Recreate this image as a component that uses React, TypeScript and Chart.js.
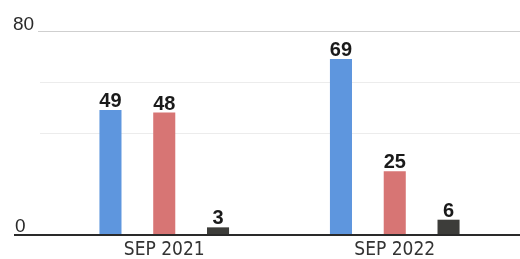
import React, { useEffect, useRef } from "react";
import { Chart, registerables } from "chart.js";

Chart.register(...registerables);

const categories = ["SEP 2021", "SEP 2022"];
const blueValues = [49, 69];
const redValues = [48, 25];
const darkValues = [3, 6];
const yTickLabels = [0, 80];
const yGridValues = [40, 60];

const NARROW = "'Liberation Sans Narrow', 'DejaVu Sans Condensed', 'Liberation Sans', sans-serif";
const SANS = "'Liberation Sans', Arial, sans-serif";

const decorPlugin = {
  id: "decor",
  beforeDatasetsDraw(chart: any) {
    const ctx = chart.ctx;
    const y = chart.scales.y;
    const W = chart.width;
    ctx.save();
    // faint gridlines
    yGridValues.forEach((v) => {
      const py = Math.round(y.getPixelForValue(v)) + 0.5;
      ctx.strokeStyle = "#ececec";
      ctx.lineWidth = 1;
      ctx.beginPath();
      ctx.moveTo(40, py);
      ctx.lineTo(W, py);
      ctx.stroke();
    });
    // top gridline
    const pTop = Math.round(y.getPixelForValue(80)) + 0.5;
    ctx.strokeStyle = "#cfcfcf";
    ctx.lineWidth = 1;
    ctx.beginPath();
    ctx.moveTo(38, pTop);
    ctx.lineTo(W, pTop);
    ctx.stroke();
    // y labels
    ctx.fillStyle = "#2a2a2a";
    ctx.font = `19px ${SANS}`;
    ctx.textAlign = "left";
    ctx.textBaseline = "alphabetic";
    yTickLabels.forEach((v) => {
      const py = y.getPixelForValue(v);
      ctx.fillText(String(v), v === 0 ? 15 : 13, py - (v === 0 ? 3 : 1));
    });
    // x labels
    const x = chart.scales.x;
    ctx.fillStyle = "#333333";
    ctx.font = `19px ${NARROW}`;
    ctx.textAlign = "center";
    categories.forEach((c, i) => {
      ctx.fillText(c, x.getPixelForValue(i), 255);
    });
    ctx.restore();
  },
  afterDatasetsDraw(chart: any) {
    const ctx = chart.ctx;
    const y = chart.scales.y;
    const W = chart.width;
    ctx.save();
    // baseline
    const p0 = y.getPixelForValue(0);
    ctx.strokeStyle = "#2a2a2a";
    ctx.lineWidth = 2;
    ctx.beginPath();
    ctx.moveTo(14, p0);
    ctx.lineTo(W, p0);
    ctx.stroke();
    // value labels
    ctx.fillStyle = "#1a1a1a";
    ctx.font = `bold 20px ${SANS}`;
    ctx.textAlign = "center";
    ctx.textBaseline = "alphabetic";
    chart.data.datasets.forEach((ds: any, di: number) => {
      const meta = chart.getDatasetMeta(di);
      meta.data.forEach((bar: any, i: number) => {
        ctx.fillText(String(ds.data[i]), bar.x, bar.y - 3);
      });
    });
    ctx.restore();
  },
};

export default function App() {
  const ref = useRef<HTMLCanvasElement | null>(null);
  useEffect(() => {
    if (!ref.current) return;
    const chart = new Chart(ref.current, {
      type: "bar",
      data: {
        labels: categories,
        datasets: [
          { data: blueValues, backgroundColor: "#5e96de" },
          { data: redValues, backgroundColor: "#d77574" },
          { data: darkValues, backgroundColor: "#3d3d3a" },
        ],
      },
      options: {
        animation: false,
        responsive: false,
        maintainAspectRatio: false,
        datasets: { bar: { categoryPercentage: 0.7, barPercentage: 0.41 } },
        layout: { padding: { top: 31, bottom: 24, left: 49, right: 10 } },
        plugins: { legend: { display: false }, tooltip: { enabled: false } },
        scales: {
          x: { display: false },
          y: { display: false, min: 0, max: 80 },
        },
      },
      plugins: [decorPlugin],
    });
    return () => chart.destroy();
  }, []);
  return (
    <div style={{ position: "fixed", left: 0, top: 0, width: 520, height: 259, background: "#fff" }}>
      <canvas ref={ref} width={520} height={259} style={{ width: 520, height: 259 }} />
    </div>
  );
}
